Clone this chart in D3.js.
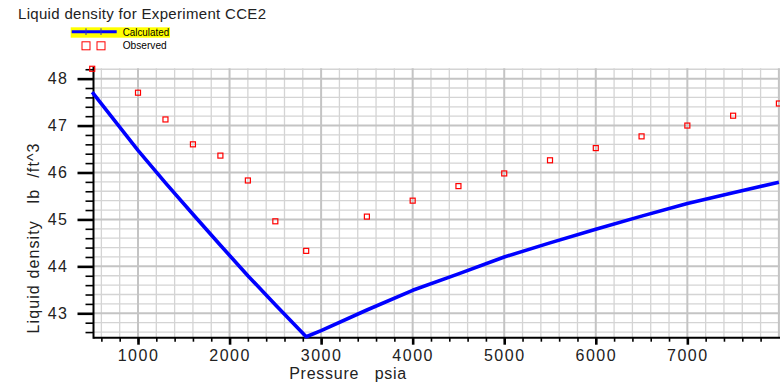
<!DOCTYPE html>
<html>
<head>
<meta charset="utf-8">
<script src="https://cdn.jsdelivr.net/npm/d3@7"></script>
<style>
  html, body { margin: 0; padding: 0; background: #fff; }
  svg { display: block; }
  text { font-family: "Liberation Sans", Arial, Helvetica, sans-serif; fill: #222; }
</style>
</head>
<body>
<svg id="chart" width="780" height="386"></svg>
<script>
// Observed CCE2 liquid density (lb/ft^3) at each pressure stage (psia)
const obsPressure = [500, 1000, 1300, 1600, 1900, 2200, 2500, 2837, 3500, 4000, 4500, 5000, 5500, 6000, 6500, 7000, 7500, 8000];
const obsDensity  = [48.21, 47.70, 47.13, 46.60, 46.36, 45.83, 44.96, 44.33, 45.06, 45.40, 45.71, 45.98, 46.26, 46.52, 46.77, 47.00, 47.21, 47.47];

// Calculated liquid density curve
const calcPressure = [500, 1000, 1300, 1600, 1900, 2200, 2500, 2837, 3000, 3500, 4000, 4500, 5000, 5500, 6000, 6500, 7000, 7500, 8000];
const calcDensity  = [47.71, 46.47, 45.78, 45.11, 44.45, 43.80, 43.18, 42.50, 42.63, 43.07, 43.49, 43.84, 44.20, 44.50, 44.79, 45.07, 45.34, 45.57, 45.79];

// Axis ticks
const xTickLabels = [1000, 2000, 3000, 4000, 5000, 6000, 7000];
const yTickLabels = [43, 44, 45, 46, 47, 48];
const xMinorTicks = d3.range(600, 8001, 200);
const yMinorTicks = d3.range(42.6, 48.21, 0.2).map(v => +v.toFixed(1));

const svg = d3.select("#chart");

const plotLeft = 93.5, plotRight = 778.9, plotTop = 68.3, plotBottom = 337.7;
const x = d3.scaleLinear().domain([514, 8000]).range([plotLeft, plotRight]);
const y = d3.scaleLinear().domain([42.48, 48.22]).range([plotBottom, plotTop]);

// Title
svg.append("text")
  .attr("x", 18).attr("y", 19)
  .attr("font-size", 15)
  .attr("textLength", 248).attr("lengthAdjust", "spacing")
  .text("Liquid density for Experiment CCE2");

// Legend
const lg = svg.append("g");
lg.append("rect").attr("x", 70.7).attr("y", 27.3).attr("width", 99.3).attr("height", 10.4).attr("fill", "#ffff00");
lg.append("line").attr("x1", 71.7).attr("x2", 116.7).attr("y1", 31.7).attr("y2", 31.7)
  .attr("stroke", "#0000ff").attr("stroke-width", 3);
[86, 101].forEach(cx => {
  lg.append("line").attr("x1", cx).attr("x2", cx).attr("y1", 28.3).attr("y2", 35)
    .attr("stroke", "#3030c0").attr("stroke-width", 1);
  lg.append("rect").attr("x", cx - 4).attr("y", 41.8).attr("width", 8).attr("height", 8)
    .attr("fill", "none").attr("stroke", "#ff0000").attr("stroke-width", 1);
});
lg.append("text").attr("x", 122.7).attr("y", 35.6).attr("font-size", 10.5)
  .attr("textLength", 46.5).attr("lengthAdjust", "spacingAndGlyphs").style("fill", "#000").text("Calculated");
lg.append("text").attr("x", 122.7).attr("y", 48.6).attr("font-size", 10.5)
  .attr("textLength", 44).attr("lengthAdjust", "spacingAndGlyphs").style("fill", "#000").text("Observed");

// Grid: minor lines first, then the heavier major lines
const grid = svg.append("g");
grid.selectAll(".vminor").data(xMinorTicks.filter(v => v % 1000 !== 0)).join("line")
  .attr("x1", d => x(d)).attr("x2", d => x(d)).attr("y1", plotTop).attr("y2", plotBottom)
  .attr("stroke", "#d4d4d4").attr("stroke-width", 1.3);
grid.selectAll(".hminor").data(yMinorTicks.filter(v => Math.abs(v - Math.round(v)) > 1e-6)).join("line")
  .attr("y1", d => y(d)).attr("y2", d => y(d)).attr("x1", plotLeft).attr("x2", 782)
  .attr("stroke", "#d4d4d4").attr("stroke-width", 1.3);
grid.selectAll(".vmajor").data(xMinorTicks.filter(v => v % 1000 === 0)).join("line")
  .attr("x1", d => x(d)).attr("x2", d => x(d)).attr("y1", plotTop).attr("y2", plotBottom)
  .attr("stroke", "#c4c4c4").attr("stroke-width", 2);
grid.selectAll(".hmajor").data(yTickLabels).join("line")
  .attr("y1", d => y(d)).attr("y2", d => y(d)).attr("x1", plotLeft).attr("x2", 782)
  .attr("stroke", "#c4c4c4").attr("stroke-width", 2);

// Y axis: minor and major ticks
const yMinorAxis = d3.axisLeft(y).tickValues(yMinorTicks).tickSize(8).tickFormat("");
const yMajorAxis = d3.axisLeft(y).tickValues(yTickLabels).tickSize(16).tickPadding(9).tickFormat(d3.format("d"));
const gyMinor = svg.append("g").attr("transform", `translate(${plotLeft},0)`).call(yMinorAxis);
gyMinor.select(".domain").remove();
gyMinor.selectAll("line").attr("stroke", "#000").attr("stroke-width", 1.6);
const gyMajor = svg.append("g").attr("transform", `translate(${plotLeft},0)`).call(yMajorAxis);
gyMajor.select(".domain").remove();
gyMajor.selectAll("line").attr("stroke", "#000").attr("stroke-width", 2.6);
gyMajor.selectAll("text").attr("font-size", 16).attr("letter-spacing", 1.5)
  .attr("font-family", null).style("fill", "#222");

// X axis: minor and major ticks
const xMinorAxis = d3.axisBottom(x).tickValues(xMinorTicks.filter(v => v < 8000)).tickSize(4).tickFormat("");
const xMajorAxis = d3.axisBottom(x).tickValues(xTickLabels).tickSize(7).tickPadding(5).tickFormat(d3.format("d"));
const gxMinor = svg.append("g").attr("transform", `translate(0,${plotBottom})`).call(xMinorAxis);
gxMinor.select(".domain").remove();
gxMinor.selectAll("line").attr("stroke", "#000").attr("stroke-width", 1.6);
const gxMajor = svg.append("g").attr("transform", `translate(0,${plotBottom})`).call(xMajorAxis);
gxMajor.select(".domain").remove();
gxMajor.selectAll("line").attr("stroke", "#000").attr("stroke-width", 2.6);
gxMajor.selectAll("text").attr("font-size", 16).attr("letter-spacing", 1.5)
  .attr("font-family", null).style("fill", "#222");

// Axis lines
svg.append("line").attr("x1", plotLeft).attr("x2", plotLeft).attr("y1", plotTop - 1.5).attr("y2", plotBottom + 1)
  .attr("stroke", "#000").attr("stroke-width", 2);
svg.append("line").attr("x1", plotLeft).attr("x2", 782).attr("y1", plotBottom).attr("y2", plotBottom)
  .attr("stroke", "#000").attr("stroke-width", 2);

// Axis titles
svg.append("text").attr("x", 347.7).attr("y", 378.5).attr("text-anchor", "middle")
  .attr("font-size", 16).attr("xml:space", "preserve").style("white-space", "pre")
  .attr("textLength", 117).attr("lengthAdjust", "spacing")
  .text("Pressure   psia");
svg.append("text")
  .attr("transform", "translate(38.5,238.5) rotate(-90)")
  .attr("text-anchor", "middle").attr("font-size", 16)
  .attr("xml:space", "preserve").style("white-space", "pre")
  .attr("textLength", 190).attr("lengthAdjust", "spacing")
  .text("Liquid density   lb  /ft^3");

// Calculated curve
const line = d3.line().x((d, i) => x(calcPressure[i])).y(d => y(d));
svg.append("path").datum(calcDensity)
  .attr("d", line).attr("fill", "none")
  .attr("stroke", "#0000ff").attr("stroke-width", 3.6).attr("stroke-linejoin", "round");

// Observed points
svg.append("g").selectAll("rect").data(obsDensity).join("rect")
  .attr("x", (d, i) => x(obsPressure[i]) - 2.5)
  .attr("y", d => y(d) - 2.5)
  .attr("width", 5).attr("height", 5)
  .attr("fill", "none").attr("stroke", "#ff0000").attr("stroke-width", 1.2);
</script>
</body>
</html>
